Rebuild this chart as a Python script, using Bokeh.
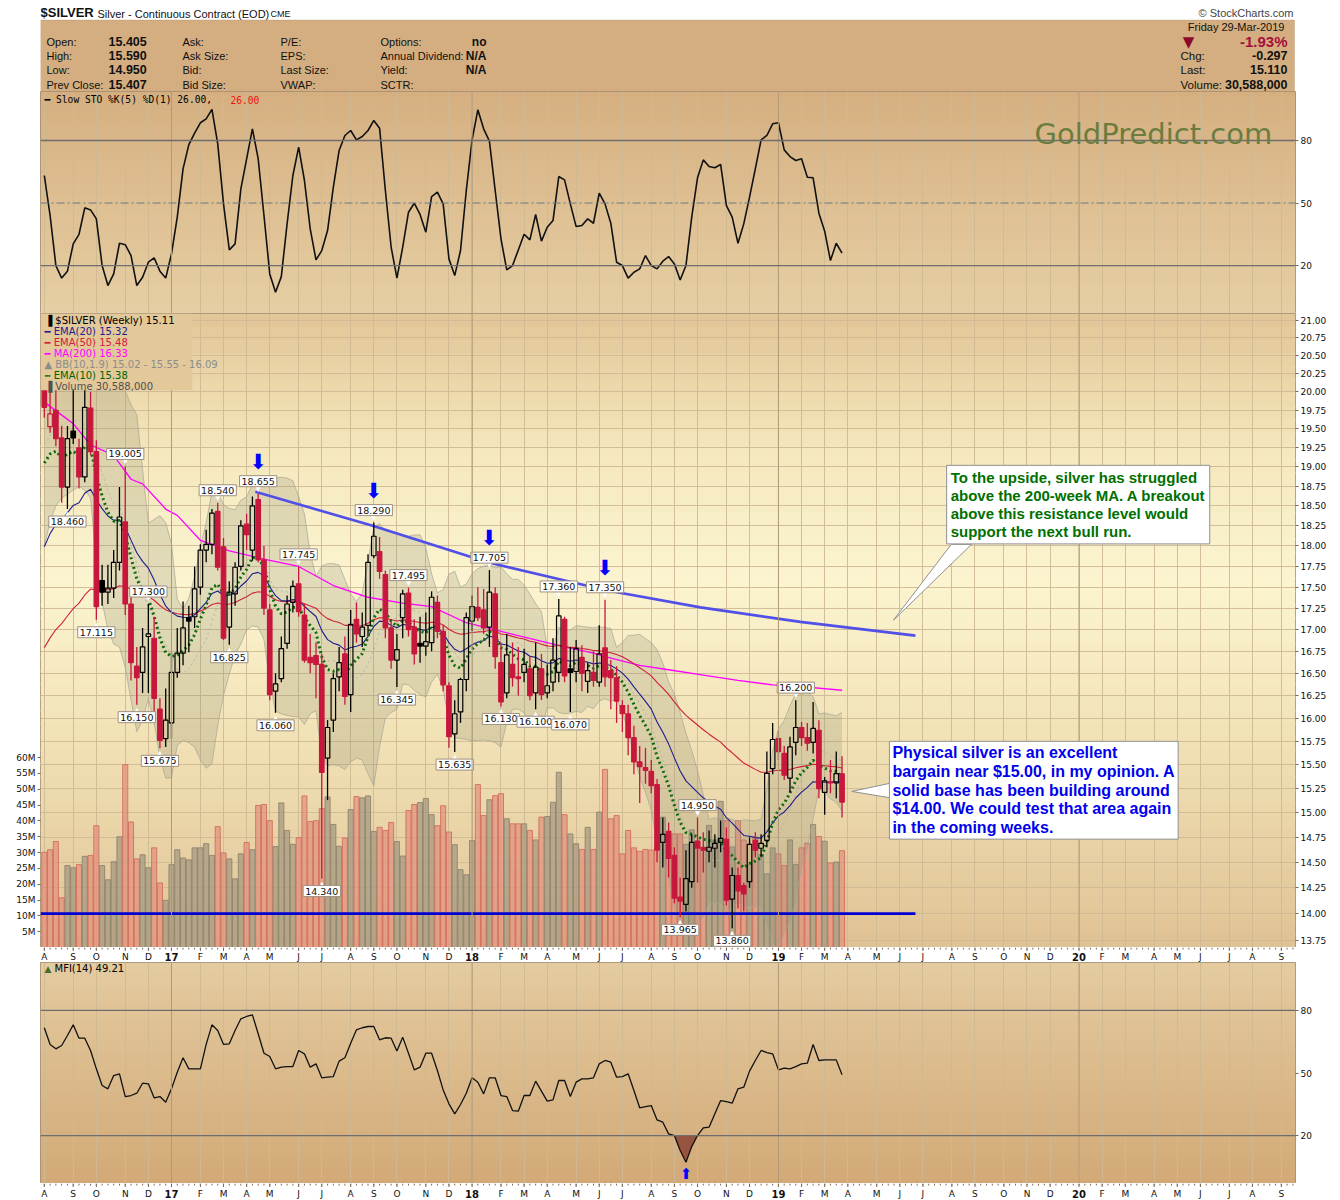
import math
import numpy as np
import pandas as pd
from bokeh.plotting import figure
from bokeh.layouts import column
from bokeh.models import (Range1d, LinearAxis, LinearScale, FixedTicker, PrintfTickFormatter,
                          BoxAnnotation, Span, Label, Grid, ColumnDataSource)
from bokeh.core.properties import value
from bokeh.embed import file_html
from bokeh.resources import INLINE

# ---------------- data (weekly bars, first bar = week of Mon 2016-08-01) ----------------
START_MONDAY = "2016-08-01"
N_AXIS_WEEKS = 217

OPEN = [20.30, 19.53, 19.75, 19.38, 18.74, 19.47, 19.25, 18.87, 19.78, 19.20,
        17.58, 17.44, 17.49, 17.80, 18.30, 17.30, 16.58, 16.51, 16.92, 16.90,
        16.10, 15.78, 15.95, 16.51, 16.73, 17.14, 17.15, 17.50, 17.95, 18.02,
        18.43, 17.99, 17.03, 17.42, 17.75, 18.27, 17.95, 18.58, 17.83, 17.23,
        16.30, 16.44, 16.84, 17.32, 17.54, 17.17, 16.68, 16.70, 16.60, 15.57,
        15.98, 16.46, 16.72, 16.26, 17.12, 16.92, 17.05, 17.88, 17.93, 17.65,
        17.02, 16.65, 17.14, 17.43, 17.03, 16.84, 16.81, 16.85, 17.32, 16.98,
        16.36, 15.83, 16.07, 16.43, 17.10, 17.26, 17.23, 17.03, 17.42, 16.62,
        16.28, 16.60, 16.46, 16.51, 16.55, 16.28, 16.55, 16.28, 16.40, 16.51,
        17.12, 16.55, 16.52, 16.68, 16.41, 16.51, 16.40, 16.79, 16.53, 16.45,
        16.14, 16.05, 15.79, 15.53, 15.47, 15.43, 15.29, 14.70, 14.81, 14.57,
        14.16, 14.09, 14.31, 14.71, 14.65, 14.61, 14.64, 14.70, 14.73, 14.14,
        14.37, 14.27, 14.31, 14.72, 14.64, 14.72, 15.46, 15.78, 15.62, 15.36,
        15.74, 15.90, 15.79, 15.74, 15.87, 15.21, 15.32, 15.31, 15.405]
HIGH = [20.55, 20.05, 20.05, 19.54, 19.54, 20.10, 19.37, 20.15, 20.00, 19.35,
        17.77, 17.77, 17.95, 18.74, 19.005, 17.42, 16.80, 17.02, 17.30, 17.15,
        16.22, 16.33, 16.74, 17.02, 17.33, 17.28, 17.75, 18.02, 18.20, 18.46,
        18.54, 18.10, 17.57, 17.80, 18.32, 18.40, 18.62, 18.655, 18.00, 17.30,
        16.50, 16.92, 17.40, 17.58, 17.745, 17.30, 16.95, 16.85, 16.72, 15.98,
        16.50, 16.80, 16.92, 17.23, 17.32, 17.20, 17.90, 18.29, 18.11, 17.70,
        17.10, 16.95, 17.47, 17.495, 17.12, 17.15, 17.20, 17.45, 17.40, 17.05,
        16.40, 16.20, 16.45, 17.20, 17.40, 17.50, 17.48, 17.705, 17.50, 16.85,
        16.95, 16.85, 16.80, 16.78, 16.70, 16.85, 16.72, 16.60, 16.90, 17.36,
        17.15, 16.80, 16.88, 16.82, 16.62, 16.75, 17.05, 17.35, 16.65, 16.58,
        16.20, 16.15, 15.92, 15.70, 15.68, 15.55, 15.35, 14.95, 14.90, 14.65,
        14.35, 14.62, 14.78, 14.95, 14.80, 14.82, 14.78, 14.92, 14.85, 14.45,
        14.45, 14.30, 14.75, 14.80, 14.78, 15.64, 15.95, 15.86, 15.70, 15.80,
        16.20, 15.96, 15.95, 16.18, 15.98, 15.37, 15.55, 15.64, 15.59]
LOW = [19.65, 19.45, 19.27, 18.54, 18.46, 19.30, 18.72, 18.80, 19.15, 17.115,
       17.28, 17.30, 17.37, 17.70, 17.17, 16.42, 16.15, 16.28, 16.28, 16.00,
       15.675, 15.69, 15.78, 16.45, 16.59, 16.74, 17.02, 17.41, 17.80, 17.90,
       17.70, 16.88, 16.825, 17.28, 17.70, 17.95, 17.82, 17.80, 17.17, 16.20,
       16.06, 16.40, 16.78, 17.20, 17.15, 16.62, 16.50, 16.22, 14.34, 15.13,
       15.85, 16.30, 16.15, 16.07, 16.85, 16.80, 16.95, 17.85, 17.60, 16.90,
       16.55, 16.345, 16.90, 16.92, 16.60, 16.62, 16.70, 16.75, 16.90, 16.30,
       15.68, 15.635, 15.95, 16.30, 16.98, 17.10, 16.95, 16.80, 16.55, 16.13,
       16.22, 16.35, 16.25, 16.40, 16.20, 16.10, 16.20, 16.22, 16.30, 16.40,
       16.40, 16.07, 16.40, 16.30, 16.28, 16.35, 16.35, 16.35, 16.10, 15.95,
       15.85, 15.60, 15.40, 15.10, 15.30, 15.20, 14.50, 14.45, 14.35, 14.10,
       13.965, 14.02, 14.25, 14.30, 14.40, 14.50, 14.45, 14.60, 14.08, 13.86,
       14.05, 14.02, 14.25, 14.55, 14.55, 14.65, 15.40, 15.55, 15.34, 15.21,
       15.60, 15.70, 15.65, 15.62, 15.15, 14.98, 15.20, 15.15, 14.95]
CLOSE = [19.79, 19.70, 19.37, 18.74, 19.37, 19.38, 18.87, 19.79, 19.20, 17.27,
         17.44, 17.49, 17.80, 18.36, 17.30, 16.62, 16.45, 16.80, 16.95, 16.22,
         15.76, 15.98, 16.51, 16.73, 17.02, 17.10, 17.48, 17.95, 18.02, 18.41,
         17.74, 16.90, 17.44, 17.74, 18.25, 18.14, 18.50, 17.83, 17.25, 16.26,
         16.38, 16.78, 17.30, 17.51, 17.21, 16.65, 16.62, 16.60, 15.42, 15.90,
         16.44, 16.62, 16.24, 17.06, 16.95, 17.03, 17.80, 18.12, 17.69, 17.02,
         16.65, 16.77, 17.42, 17.00, 16.72, 16.81, 16.86, 17.38, 16.98, 16.37,
         15.80, 16.05, 16.43, 17.14, 17.27, 17.14, 17.02, 17.44, 16.69, 16.18,
         16.71, 16.45, 16.44, 16.60, 16.25, 16.57, 16.26, 16.36, 16.65, 17.16,
         16.47, 16.51, 16.78, 16.50, 16.53, 16.42, 16.72, 16.46, 16.45, 16.19,
         16.05, 15.79, 15.53, 15.48, 15.44, 15.28, 14.62, 14.78, 14.54, 14.15,
         14.12, 14.34, 14.70, 14.64, 14.62, 14.65, 14.69, 14.74, 14.13, 14.37,
         14.22, 14.19, 14.68, 14.62, 14.69, 15.41, 15.77, 15.64, 15.39, 15.69,
         15.90, 15.79, 15.73, 15.89, 15.25, 15.33, 15.31, 15.407, 15.11]
VOLUME_M = [30.1, 30.9, 33.5, 15.7, 25.9, 25.2, 26.2, 28.8, 29.1, 38.5,
            25.9, 21.4, 27.1, 35.0, 57.8, 39.7, 28.0, 29.3, 25.2, 31.5,
            20.4, 14.9, 26.2, 30.9, 28.3, 27.7, 31.5, 31.5, 32.8, 29.1,
            38.2, 29.9, 28.0, 21.7, 29.6, 33.2, 30.9, 44.9, 45.2, 40.1,
            31.9, 45.7, 37.0, 32.6, 34.7, 47.9, 39.8, 40.1, 43.9, 47.6,
            38.9, 32.0, 34.6, 43.6, 47.7, 47.3, 47.9, 36.7, 38.0, 37.0,
            39.5, 33.5, 28.9, 43.3, 45.2, 45.8, 47.1, 42.0, 38.5, 44.8,
            36.5, 32.5, 24.6, 23.0, 33.8, 51.5, 41.7, 46.7, 48.0, 48.6,
            40.7, 39.1, 39.1, 39.1, 37.0, 34.0, 41.2, 41.4, 45.9, 55.4,
            42.0, 35.9, 32.8, 31.0, 38.0, 31.0, 42.8, 56.3, 40.7, 41.7,
            29.6, 37.0, 31.5, 30.4, 31.0, 30.8, 31.8, 41.2, 31.5, 35.9,
            35.9, 32.6, 37.2, 33.8, 30.8, 38.6, 34.0, 46.2, 40.1, 31.8,
            40.1, 34.0, 26.2, 34.9, 29.4, 23.3, 31.5, 29.6, 25.9, 34.0,
            26.2, 31.5, 33.0, 38.9, 35.1, 33.6, 26.7, 27.0, 30.6]
SLOW_STO = [63.2, 44.0, 20.0, 14.0, 17.3, 30.4, 35.0, 47.7, 46.7, 42.4,
            20.0, 10.4, 16.0, 30.7, 30.0, 24.8, 10.4, 14.4, 21.6, 23.7,
            17.3, 14.0, 25.6, 43.2, 66.4, 78.0, 83.5, 88.5, 90.4, 94.9,
            78.4, 49.6, 27.5, 30.4, 56.8, 71.2, 85.6, 71.2, 44.0, 16.0,
            7.2, 14.7, 40.0, 63.2, 76.8, 60.8, 37.6, 22.7, 27.2, 36.8,
            57.6, 75.2, 82.4, 84.8, 80.3, 81.9, 84.8, 89.6, 85.9, 56.0,
            28.8, 14.0, 28.8, 45.6, 49.9, 44.5, 36.0, 53.1, 55.2, 49.6,
            23.2, 15.2, 27.2, 56.0, 80.3, 94.7, 85.6, 79.7, 56.0, 32.8,
            17.9, 20.0, 27.5, 35.0, 32.3, 44.5, 31.7, 38.4, 41.6, 62.7,
            61.1, 49.6, 38.7, 39.2, 42.4, 40.3, 54.7, 49.6, 40.3, 21.6,
            20.0, 14.0, 16.8, 18.4, 24.8, 20.0, 18.4, 22.1, 24.3, 20.8,
            13.1, 20.0, 43.2, 62.1, 70.7, 67.5, 66.9, 68.5, 48.8, 43.2,
            30.7, 40.0, 52.8, 66.4, 80.3, 82.4, 88.0, 88.5, 75.5, 72.3,
            70.4, 71.2, 62.4, 62.1, 45.1, 36.5, 22.4, 30.7, 26.0]
MFI = [71.7, 63.7, 61.6, 63.2, 68.0, 73.1, 66.7, 66.7, 60.8, 52.0,
       44.0, 42.4, 48.8, 49.6, 38.7, 39.2, 40.3, 45.1, 44.8, 38.1,
       38.7, 36.0, 42.4, 50.4, 57.3, 52.0, 52.0, 52.0, 63.7, 73.1,
       70.4, 63.7, 64.0, 70.4, 76.0, 77.1, 77.9, 68.8, 59.5, 57.9,
       52.0, 52.8, 53.1, 53.1, 60.8, 59.2, 52.8, 54.4, 47.7, 48.0,
       48.3, 55.7, 57.3, 64.3, 70.7, 71.7, 72.3, 72.3, 65.9, 66.9,
       66.7, 60.5, 67.2, 59.5, 51.5, 52.8, 59.5, 59.5, 51.2, 41.9,
       35.2, 30.4, 34.9, 40.3, 47.7, 45.6, 40.0, 47.7, 47.7, 39.2,
       38.7, 32.0, 31.7, 39.2, 39.2, 46.1, 41.3, 36.5, 37.1, 46.4,
       46.4, 38.7, 45.6, 47.2, 47.2, 47.7, 54.4, 56.0, 55.2, 48.0,
       48.3, 49.6, 41.6, 33.3, 33.9, 34.4, 27.5, 26.4, 20.8, 20.0,
       12.8, 7.2, 14.7, 20.0, 23.7, 24.0, 30.4, 36.8, 36.3, 35.5,
       42.4, 43.2, 50.9, 56.0, 60.8, 59.8, 59.2, 51.5, 52.3, 52.0,
       53.1, 54.4, 54.7, 63.7, 56.0, 56.3, 56.3, 56.3, 49.2]

# 200-week MA (week index, value)
MA200_IDX = [0, 5, 8, 12, 15, 17, 21, 23, 27, 32, 38, 44, 50, 56, 62, 67, 73, 79,
             85, 90, 95, 97, 103, 108, 114, 120, 126, 131, 138]
MA200_VAL = [19.86, 19.57, 19.29, 19.15, 18.84, 18.78, 18.46, 18.38, 18.07, 17.94,
             17.84, 17.75, 17.52, 17.38, 17.31, 17.27, 17.08, 16.98, 16.88, 16.80,
             16.73, 16.69, 16.59, 16.54, 16.48, 16.42, 16.37, 16.35, 16.31]
# indicator starting states at the first bar
EMA10_START, EMA20_START, EMA50_START = 19.05, 17.99, 16.79
BB_HEAD_UPPER = [21.0, 20.9, 20.8, 20.7, 20.6, 20.5, 20.45, 20.35, 20.3]
BB_HEAD_MID = [19.30, 19.40, 19.50, 19.55, 19.60, 19.60, 19.62, 19.55, 19.45]
BB_HEAD_LOWER = [18.00, 18.30, 18.50, 18.60, 18.65, 18.70, 18.75, 18.70, 18.60]

# drawn resistance curve and support line
TREND_IDX = [36.5, 56.8, 76.7, 97.4, 113.5, 130.8, 150.7]
TREND_VAL = [18.68, 18.25, 17.80, 17.46, 17.26, 17.09, 16.93]
SUPPORT_LEVEL = 14.00
SUPPORT_END_IDX = 150.7
ARROW_IDX = [37, 57, 77, 97]
HIGH_LABEL_IDX = [14, 18, 30, 37, 44, 57, 63, 77, 89, 97, 113, 130]
LOW_LABEL_IDX = [4, 9, 16, 20, 32, 40, 48, 61, 71, 79, 85, 91, 110, 119]
MFI_ARROW_IDX = 111

PRICE_TICKS = [13.75, 14.00, 14.25, 14.50, 14.75, 15.00, 15.25, 15.50, 15.75, 16.00,
               16.25, 16.50, 16.75, 17.00, 17.25, 17.50, 17.75, 18.00, 18.25, 18.50,
               18.75, 19.00, 19.25, 19.50, 19.75, 20.00, 20.25, 20.50, 20.75, 21.00]
VOL_TICKS = [5, 10, 15, 20, 25, 30, 35, 40, 45, 50, 55, 60]
OSC_TICKS = [20, 50, 80]
MONTH_LABELS = ["A", "S", "O", "N", "D", "17", "F", "M", "A", "M", "J", "J",
                "A", "S", "O", "N", "D", "18", "F", "M", "A", "M", "J", "J",
                "A", "S", "O", "N", "D", "19", "F", "M", "A", "M", "J", "J",
                "A", "S", "O", "N", "D", "20", "F", "M", "A", "M", "J", "J", "A", "S"]
YEAR_LABELS = ["17", "18", "19", "20"]

LEGEND_LINES = [("\u2590 $SILVER (Weekly) 15.11", "#000000"),
                ("\u2501 EMA(20) 15.32", "#1c1c8c"),
                ("\u2501 EMA(50) 15.48", "#d0203c"),
                ("\u2501 MA(200) 16.33", "#ff00ff"),
                ("\u25b2 BB(10,1.9) 15.02 - 15.55 - 16.09", "#8c8c8c"),
                ("\u2505 EMA(10) 15.38", "#006400"),
                ("\u2590 Volume 30,588,000", "#505050")]

GREEN_NOTE = ("To the upside, silver has struggled\nabove the 200-week MA. A breakout\n"
              "above this resistance level would\nsupport the next bull run.")
BLUE_NOTE = ("Physical silver is an excellent\nbargain near $15.00, in my opinion. A\n"
             "solid base has been building around\n$14.00. We could test that area again\n"
             "in the coming weeks.")

# ---------------- derived ----------------
N = len(CLOSE)
idx = np.arange(N)
o, h, l, c = map(np.array, (OPEN, HIGH, LOW, CLOSE))
prev_c = np.concatenate([[o[0] + 1.0], c[:-1]])
down = c < prev_c
body_top = np.maximum(o, c)
body_bot = np.minimum(o, c)
col = np.where(down, "#c8173c", "#000000")
filled = c < o


def ema(vals, n, start):
    k = 2.0 / (n + 1)
    out = [start]
    for v in vals[1:]:
        out.append(out[-1] + k * (v - out[-1]))
    return np.array(out)


ema10 = ema(c, 10, EMA10_START)
ema20 = ema(c, 20, EMA20_START)
ema50 = ema(c, 50, EMA50_START)
bb_mid = list(BB_HEAD_MID) + [c[i - 9:i + 1].mean() for i in range(9, N)]
bb_up = list(BB_HEAD_UPPER) + [c[i - 9:i + 1].mean() + 1.9 * c[i - 9:i + 1].std() for i in range(9, N)]
bb_lo = list(BB_HEAD_LOWER) + [c[i - 9:i + 1].mean() - 1.9 * c[i - 9:i + 1].std() for i in range(9, N)]

weeks = pd.date_range(START_MONDAY, periods=N_AXIS_WEEKS, freq="7D")
MONTH_IDX = [0] + [i for i in range(1, N_AXIS_WEEKS) if weeks[i].month != weeks[i - 1].month]
YEAR_IDX = [int(t) for t, lab in zip(MONTH_IDX, MONTH_LABELS) if lab in YEAR_LABELS]

# ---------------- layout constants ----------------
FRAME_W = 1255
LEFT_B, RIGHT_B = 40, 35
xr = Range1d(-0.66, 216.45)
AX_FONT = "DejaVu Sans"
GRID_C = "#cdb994"
OUTLINE_C = "#9c8a70"
TICK_C = "#7a6a58"


def hex2rgb(hx):
    return tuple(int(hx[i:i + 2], 16) for i in (1, 3, 5))


def grad_color(stops, f):
    for (f0, c0), (f1, c1) in zip(stops, stops[1:]):
        if f0 <= f <= f1:
            t = (f - f0) / (f1 - f0) if f1 > f0 else 0
            a, b = hex2rgb(c0), hex2rgb(c1)
            return "#%02x%02x%02x" % tuple(int(round(a[k] + (b[k] - a[k]) * t)) for k in range(3))
    return stops[-1][1]


def add_gradient(p, stops, lo, hi, log=False, n=48):
    def at(f):
        if log:
            return math.exp(math.log(hi) - f * (math.log(hi) - math.log(lo)))
        return hi - f * (hi - lo)
    for k in range(n):
        f0, f1 = k / n, (k + 1) / n
        top = None if k == 0 else at(f0)
        bot = None if k == n - 1 else at(min(1.0, f1 + 0.003))
        p.add_layout(BoxAnnotation(top=top, bottom=bot, fill_color=grad_color(stops, (f0 + f1) / 2),
                                   fill_alpha=1.0, line_color=None, level="image"))


def base_fig(height, y_range, **kw):
    p = figure(frame_width=FRAME_W, frame_height=height, x_range=xr, y_range=y_range,
               toolbar_location=None, output_backend="svg", min_border_left=LEFT_B,
               min_border_right=RIGHT_B, min_border_top=0, min_border_bottom=0, **kw)
    return p


def style_panel(p):
    p.outline_line_color = OUTLINE_C
    p.outline_line_width = 1
    p.background_fill_color = "#e8d2a8"
    p.border_fill_color = "white"
    for g in p.grid:
        g.visible = False
    p.add_layout(Grid(dimension=0, ticker=FixedTicker(ticks=MONTH_IDX), grid_line_color=GRID_C,
                      grid_line_alpha=0.9))
    for yi in YEAR_IDX:
        p.add_layout(Span(location=yi, dimension="height", line_color="#b09a78", line_width=1))


def style_axis(ax, size="9px"):
    ax.axis_line_color = None
    ax.major_label_text_font = AX_FONT
    ax.major_label_text_font_size = size
    ax.major_label_text_color = "#111111"
    ax.major_tick_in = 0
    ax.major_tick_out = 3
    ax.minor_tick_in = 0
    ax.minor_tick_out = 0
    ax.major_tick_line_color = TICK_C
    ax.major_label_standoff = 2


def month_row(height):
    r = base_fig(height, Range1d(0, height), x_axis_location=None, y_axis_location=None)
    r.grid.visible = False
    r.outline_line_color = None
    r.background_fill_color = "white"
    r.segment(x0=list(range(N_AXIS_WEEKS)), y0=[height] * N_AXIS_WEEKS,
              x1=list(range(N_AXIS_WEEKS)), y1=[height - 2] * N_AXIS_WEEKS,
              line_color=TICK_C, line_width=1)
    r.segment(x0=MONTH_IDX, y0=[height] * len(MONTH_IDX), x1=MONTH_IDX,
              y1=[height - 3.5] * len(MONTH_IDX), line_color=TICK_C, line_width=1)
    mx = [t for t, lab in zip(MONTH_IDX, MONTH_LABELS) if lab not in YEAR_LABELS]
    mt = [lab for lab in MONTH_LABELS if lab not in YEAR_LABELS]
    r.text(x=mx, y=[height / 2 - 2] * len(mx), text=mt, text_align="center", text_baseline="middle",
           text_font=value(AX_FONT), text_font_size="9px", text_color="#111111")
    r.text(x=YEAR_IDX, y=[height / 2 - 2] * len(YEAR_IDX), text=YEAR_LABELS, text_align="center",
           text_baseline="middle", text_font=value(AX_FONT), text_font_size="10px",
           text_font_style="bold", text_color="#111111")
    return r


def slabel(p, x, y, text, color="#000000", size="10px", font=AX_FONT, bold=False, align="left"):
    p.add_layout(Label(x=x, y=y, x_units="screen", y_units="screen", text=text, text_color=color,
                       text_font_size=size, text_font=font, text_align=align,
                       text_baseline="middle", text_font_style="bold" if bold else "normal"))


# ---------------- header (coordinates = page pixels) ----------------
head = base_fig(91, Range1d(91, 0), x_axis_location=None, y_axis_location=None)
head.x_range = Range1d(40, 1295)
head.grid.visible = False
head.outline_line_color = None
head.background_fill_color = "white"
head.add_layout(BoxAnnotation(left=40, right=1294, top=19.5, bottom=91, fill_color="#d4ae80",
                              fill_alpha=1, line_color="#a08868", line_width=1))


def hl(x, y, text, size="11px", bold=False, color="#111111", align="left", font="Liberation Sans"):
    head.add_layout(Label(x=x, y=y, text=text, text_font=font, text_font_size=size,
                          text_font_style="bold" if bold else "normal", text_color=color,
                          text_align=align, text_baseline="middle"))


hl(40, 12, "$SILVER", size="13px", bold=True)
hl(97, 13, "Silver - Continuous Contract (EOD)", size="11px")
hl(270, 13, "CME", size="9px")
hl(1293, 12, "\u00a9 StockCharts.com", size="11px", color="#444444", align="right")
rows = [41, 55, 69, 84]
for y, a, av, b, cc, d, dv in zip(rows, ["Open:", "High:", "Low:", "Prev Close:"],
                                  ["15.405", "15.590", "14.950", "15.407"],
                                  ["Ask:", "Ask Size:", "Bid:", "Bid Size:"],
                                  ["P/E:", "EPS:", "Last Size:", "VWAP:"],
                                  ["Options:", "Annual Dividend:", "Yield:", "SCTR:"],
                                  ["no", "N/A", "N/A", ""]):
    hl(46, y, a)
    hl(108, y, av, size="12.5px", bold=True)
    hl(182, y, b)
    hl(280, y, cc)
    hl(380, y, d)
    hl(486, y, dv, size="12px", bold=True, align="right")
hl(1287, 26, "Friday  29-Mar-2019", size="11px", align="right")
hl(1188, 41, "\u25bc", size="15px", color="#8b0a2a", align="center", font="DejaVu Sans")
hl(1287, 41, "-1.93%", size="15px", bold=True, color="#a50e3c", align="right")
for y, a, av in zip(rows[1:], ["Chg:", "Last:", "Volume:"], ["-0.297", "15.110", "30,588,000"]):
    hl(1180, y, a, size="11.5px")
    hl(1287, y, av, size="12.5px", bold=True, align="right")

# ---------------- Slow STO panel ----------------
sto = base_fig(222, Range1d(-3.0, 103.5), x_axis_location=None, y_axis_location="right")
style_panel(sto)
add_gradient(sto, [(0, "#d5af80"), (1, "#e6cfa4")], -3.0, 103.5)
sto.yaxis.ticker = FixedTicker(ticks=OSC_TICKS)
style_axis(sto.yaxis[0])
for lv in (20, 80):
    sto.add_layout(Span(location=lv, dimension="width", line_color="#6e6e6e", line_width=1.3))
sto.add_layout(Span(location=50, dimension="width", line_color="#707888", line_width=1,
                    line_dash="8 3 2 3"))
sto.line(idx, SLOW_STO, line_color="#111111", line_width=1.6)
sto.add_layout(Label(x=171.3, y=83.0, text="GoldPredict.com", text_font="DejaVu Sans",
                     text_font_size="29px", text_color="#6b7c3f", text_baseline="middle"))
slabel(sto, 4, 214, "\u2501 Slow STO %K(5) %D(1) 26.00,", font="DejaVu Sans Mono", size="9.6px")
slabel(sto, 190, 214, "26.00", color="#ee1111", font="DejaVu Sans Mono", size="9.6px")

# ---------------- price panel ----------------
P_LO, P_HI = 13.68, 21.10
price = base_fig(634, Range1d(P_LO, P_HI), y_axis_type="log", y_axis_location="right",
                 x_axis_location=None)
style_panel(price)
add_gradient(price, [(0, "#e2c596"), (0.22, "#f5e8bd"), (0.42, "#fbf4d0"), (0.62, "#f4e6bb"),
                     (1, "#dfc294")], P_LO, P_HI, log=True)
price.add_layout(Grid(dimension=1, ticker=FixedTicker(ticks=PRICE_TICKS), grid_line_color=GRID_C,
                      grid_line_alpha=0.9))
pax = price.yaxis[0]
pax.ticker = FixedTicker(ticks=PRICE_TICKS)
pax.formatter = PrintfTickFormatter(format="%.2f")
style_axis(pax)

price.extra_y_ranges = {"vol": Range1d(0, 200.4)}
price.extra_y_scales = {"vol": LinearScale()}
vax = LinearAxis(y_range_name="vol", ticker=FixedTicker(ticks=VOL_TICKS),
                 formatter=PrintfTickFormatter(format="%dM"))
style_axis(vax, size="9px")
price.add_layout(vax, "left")

vol_fill = np.where(down, "#e2917e", "#a49880")
vol_line = np.where(down, "#d06a5a", "#8c806c")
price.vbar(x=idx, top=VOLUME_M, bottom=0, width=0.88, y_range_name="vol", fill_color=vol_fill,
           fill_alpha=0.72, line_color=vol_line, line_alpha=0.85, line_width=1)

price.varea(x=idx, y1=bb_lo, y2=bb_up, fill_color="#8f8f74", fill_alpha=0.24)
price.line(idx, bb_up, line_color="#a5a596", line_width=1, line_alpha=0.7)
price.line(idx, bb_lo, line_color="#a5a596", line_width=1, line_alpha=0.7)
price.line(idx, bb_mid, line_color="#b4b4a8", line_width=1, line_dash="2 3")

price.line(MA200_IDX, MA200_VAL, line_color="#ff00ff", line_width=1.3)
price.line(idx, ema50, line_color="#d0203c", line_width=1.1)
price.line(idx, ema20, line_color="#1c1c8c", line_width=1.1)
price.line(idx, ema10, line_color="#0b6b0b", line_width=3, line_dash="2 3")

price.line([xr.start, SUPPORT_END_IDX], [SUPPORT_LEVEL, SUPPORT_LEVEL], line_color="#0000d0",
           line_width=2.6)
price.line(TREND_IDX, TREND_VAL, line_color="#5050e8", line_width=2.6)

cs = ColumnDataSource(dict(x=idx, hi=h, lo=l, bt=body_top, bb=body_bot, col=col,
                           fill=np.where(filled, col, "#ffffff"), fa=np.where(filled, 1.0, 0.0)))
price.segment(x0="x", y0="hi", x1="x", y1="bt", line_color="col", line_width=1.3, source=cs)
price.segment(x0="x", y0="bb", x1="x", y1="lo", line_color="col", line_width=1.3, source=cs)
price.vbar(x="x", top="bt", bottom="bb", width=0.78, fill_color="fill", fill_alpha="fa",
           line_color="col", line_width=1.2, source=cs)

hi_src = ColumnDataSource(dict(x=HIGH_LABEL_IDX, y=[HIGH[i] for i in HIGH_LABEL_IDX],
                               t=["%.3f" % HIGH[i] for i in HIGH_LABEL_IDX]))
lo_src = ColumnDataSource(dict(x=LOW_LABEL_IDX, y=[LOW[i] for i in LOW_LABEL_IDX],
                               t=["%.3f" % LOW[i] for i in LOW_LABEL_IDX]))
lab_kw = dict(text="t", text_font=value(AX_FONT), text_font_size="9.5px", text_color="#111111",
              text_align="center", background_fill_color="white", border_line_color="#a09080",
              padding=2)
# small white pointers under the value boxes
price.text(x="x", y="y", text=value("\u25bc"), y_offset=-1, text_baseline="bottom",
           text_align="center", text_font=value("DejaVu Sans"), text_font_size="8px",
           text_color="white", source=hi_src)
price.text(x="x", y="y", text=value("\u25b2"), y_offset=1, text_baseline="top",
           text_align="center", text_font=value("DejaVu Sans"), text_font_size="8px",
           text_color="white", source=lo_src)
price.text(x="x", y="y", y_offset=-7, text_baseline="bottom", source=hi_src, **lab_kw)
price.text(x="x", y="y", y_offset=7, text_baseline="top", source=lo_src, **lab_kw)
ar_src = ColumnDataSource(dict(x=ARROW_IDX, y=[HIGH[i] for i in ARROW_IDX], t=["\u2b07"] * len(ARROW_IDX)))
price.text(x="x", y="y", text="t", y_offset=-20, text_baseline="bottom", text_align="center",
           text_font=value("DejaVu Sans"), text_font_size="21px", text_color="#0000ff", source=ar_src)

# callouts
price.patch([156.9, 160.4, 146.9], [18.02, 18.02, 17.11], fill_color="white", line_color="#909090")
price.patch([146.7, 146.7, 139.7], [15.31, 15.15, 15.22], fill_color="white", line_color="#909090")
price.add_layout(Label(x=156.1, y=19.02, text=GREEN_NOTE,
                       text_font="Liberation Sans", text_font_size="15px", text_font_style="bold",
                       text_color="#007000", text_align="left", text_baseline="top",
                       text_line_height=1.05, background_fill_color="white",
                       border_line_color="#909090", padding=4))
price.add_layout(Label(x=146.2, y=15.75, text=BLUE_NOTE,
                       text_font="Liberation Sans", text_font_size="16px", text_font_style="bold",
                       text_color="#0000ee", text_align="left", text_baseline="top",
                       text_line_height=1.1, background_fill_color="white",
                       border_line_color="#909090", padding=3))

# legend area (opaque, like the original)
price.add_layout(BoxAnnotation(left=xr.start, right=25.6, bottom=20.02, top=None,
                               fill_color="#e3c89a", fill_alpha=1, line_color=None))
for k, (txt, colr) in enumerate(LEGEND_LINES):
    slabel(price, 4, 627 - 11 * k, txt, color=colr, size="10px")

row1 = month_row(15)

# ---------------- MFI panel ----------------
mfi = base_fig(221, Range1d(-3.0, 103.0), y_axis_location="right", x_axis_location=None)
style_panel(mfi)
add_gradient(mfi, [(0, "#e4cba0"), (1, "#d2a977")], -3.0, 103.0)
mfi.yaxis.ticker = FixedTicker(ticks=OSC_TICKS)
style_axis(mfi.yaxis[0])
for lv in (20, 80):
    mfi.add_layout(Span(location=lv, dimension="width", line_color="#6e6e6e", line_width=1.3))
mfi_arr = np.array(MFI)
mfi.varea(x=idx, y1=20, y2=np.minimum(mfi_arr, 20), fill_color="#965440", fill_alpha=1)
mfi.line(idx, MFI, line_color="#111111", line_width=1.3)
mfi.text(x=[MFI_ARROW_IDX], y=[MFI[MFI_ARROW_IDX]], text=["\u2b06"], y_offset=3, text_baseline="top",
         text_align="center", text_font=value("DejaVu Sans"), text_font_size="15px",
         text_color="#0000ff")
slabel(mfi, 4, 215, "\u25b2", color="#4a6a2a", size="9px")
slabel(mfi, 14, 215, "MFI(14) 49.21", size="10px")

row2 = month_row(16)

layout = column(head, sto, price, row1, mfi, row2, spacing=0)
open("out.html", "w").write(file_html(layout, INLINE))
